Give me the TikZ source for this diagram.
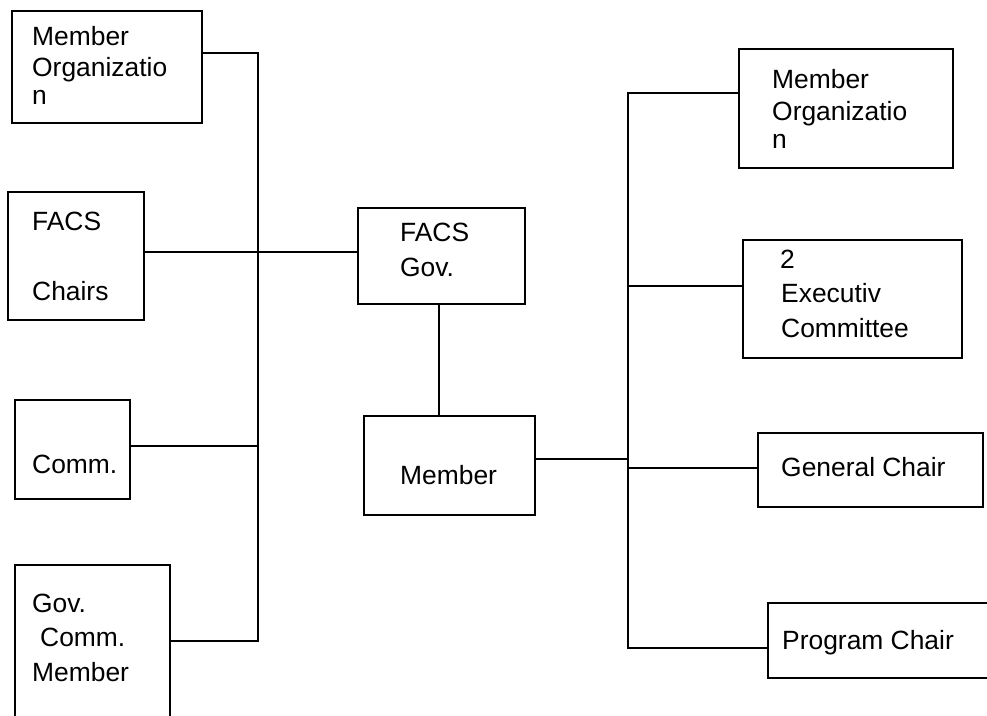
\documentclass[tikz,border=0pt]{standalone}
\usepackage{fontspec}
\setmainfont{Liberation Sans}
\begin{document}
\begin{tikzpicture}[x=1pt,y=-1pt,
  box/.style={draw=black,line width=2pt,fill=none,inner sep=0pt},
  txt/.style={anchor=base west,inner sep=0pt,font=\fontsize{26.4}{31}\selectfont},
  link/.style={draw=black,line width=2pt}]
\useasboundingbox (0,0) rectangle (987,715);
\fill[white] (0,0) rectangle (987,715);
\clip (0,0) rectangle (987,715);
% boxes
\node[box,anchor=north west,minimum width=190pt,minimum height=112pt] (L1) at (11,10) {};
\node[box,anchor=north west,minimum width=136pt,minimum height=128pt] (L2) at (7,191) {};
\node[box,anchor=north west,minimum width=115pt,minimum height=99pt] (L3) at (14,399) {};
\node[box,anchor=north west,minimum width=155pt,minimum height=170pt] (L4) at (14,564) {};
\node[box,anchor=north west,minimum width=167pt,minimum height=96pt] (C1) at (357,207) {};
\node[box,anchor=north west,minimum width=171pt,minimum height=99pt] (C2) at (363,415) {};
\node[box,anchor=north west,minimum width=214pt,minimum height=119pt] (R1) at (738,48) {};
\node[box,anchor=north west,minimum width=219pt,minimum height=118pt] (R2) at (742,239) {};
\node[box,anchor=north west,minimum width=225pt,minimum height=74pt] (R3) at (757,432) {};
\node[box,anchor=north west,minimum width=240pt,minimum height=75pt] (R4) at (767,602) {};
% texts
\node[txt] (L1a) at (32,45) {Member};
\node[txt] (L1b) at (32,76) {Organizatio};
\node[txt] (L1c) at (32,104) {n};
\node[txt] (L2a) at (32,230) {FACS};
\node[txt] (L2b) at (32,300) {Chairs};
\node[txt] (L3a) at (32,473) {Comm.};
\node[txt] (L4a) at (32,612) {Gov.};
\node[txt] (L4b) at (40,646) {Comm.};
\node[txt] (L4c) at (32,681) {Member};
\node[txt] (C1a) at (400,241) {FACS};
\node[txt] (C1b) at (400,276) {Gov.};
\node[txt] (C2a) at (400,484) {Member};
\node[txt] (R1a) at (772,88) {Member};
\node[txt] (R1b) at (772,120) {Organizatio};
\node[txt] (R1c) at (772,148) {n};
\node[txt] (R2a) at (780,268) {2};
\node[txt] (R2b) at (781,302) {Executiv};
\node[txt] (R2c) at (781,337) {Committee};
\node[txt] (R3a) at (781,476) {General Chair};
\node[txt] (R4a) at (782,649) {Program Chair};
% junctions
\coordinate (jL1) at (258,53);
\coordinate (jL2) at (258,252);
\coordinate (jL3) at (258,446);
\coordinate (jL4) at (258,641);
\coordinate (jR1) at (628,93);
\coordinate (jR2) at (628,286);
\coordinate (jC2) at (628,459);
\coordinate (jR3) at (628,468);
\coordinate (jR4) at (628,648);
% connectors
\draw[link] (L1.east |- jL1) -- (jL1) -- (jL4) -- (L4.east |- jL4);
\draw[link] (L2.east |- jL2) -- (C1.west |- jL2);
\draw[link] (L3.east |- jL3) -- (jL3);
\draw[link] (C1.south -| 439,0) -- (C2.north -| 439,0);
\draw[link] (C2.east |- jC2) -- (jC2);
\draw[link] (R1.west |- jR1) -- (jR1) -- (jR4) -- (R4.west |- jR4);
\draw[link] (jR2) -- (R2.west |- jR2);
\draw[link] (jR3) -- (R3.west |- jR3);
\end{tikzpicture}
\end{document}
